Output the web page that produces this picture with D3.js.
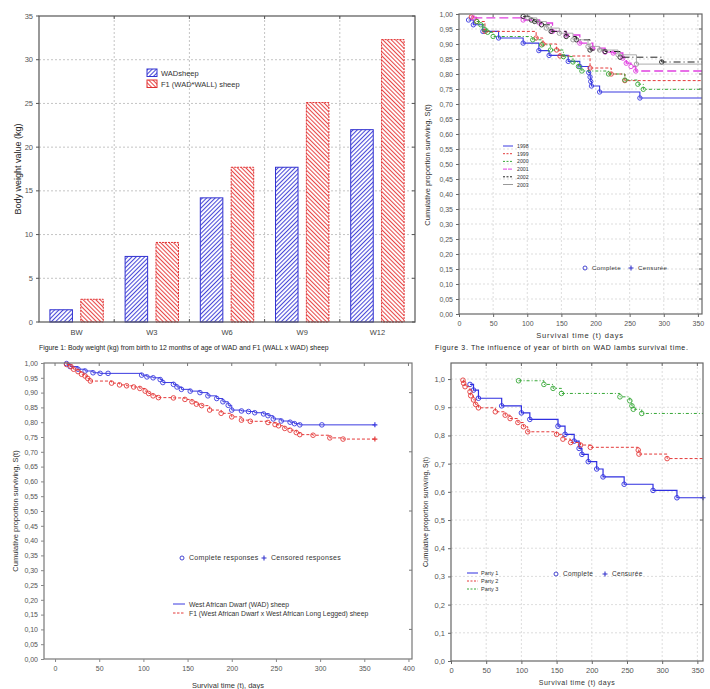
<!DOCTYPE html>
<html lang="en">
<head>
<meta charset="UTF-8">
<title>Sheep body weight and survival</title>
<script src="https://d3js.org/d3.v7.min.js"></script>
<style>
  body { margin: 0; background: #fff; }
  svg { display: block; font-family: "Liberation Sans", Arial, sans-serif; }
</style>
</head>
<body>
<svg id="canvas" width="710" height="689"></svg>
<script>
// ---- values ----

// figure 1: body weight (kg)
const ageGroups = ["BW", "W3", "W6", "W9", "W12"]
const wadWeight = [1.4, 7.5, 14.2, 17.7, 22.0]
const f1Weight = [2.6, 9.1, 17.7, 25.1, 32.3]
const weightTicks = [0, 5, 10, 15, 20, 25, 30, 35]

// figure 3: survival by year of birth (event day, survival after event)
const years = ["1998", "1999", "2000", "2001", "2002", "2003"]
const t1998 = [14, 21, 35, 58, 94, 117, 132, 160, 177, 190, 192, 193, 194, 206, 265]
const s1998 = [0.98, 0.964, 0.942, 0.92, 0.903, 0.878, 0.862, 0.842, 0.825, 0.805, 0.79, 0.775, 0.76, 0.74, 0.72]
const t1999 = [18, 26, 38, 113, 123, 143, 148, 192, 223, 243]
const s1999 = [0.99, 0.975, 0.942, 0.92, 0.90, 0.88, 0.86, 0.82, 0.80, 0.778]
const t2000 = [26, 32, 37, 42, 50, 108, 121, 134, 153, 167, 175, 180, 219, 243, 262, 270]
const s2000 = [0.975, 0.964, 0.95, 0.939, 0.925, 0.914, 0.897, 0.88, 0.858, 0.84, 0.825, 0.81, 0.80, 0.78, 0.766, 0.749]
const t2001 = [21, 94, 118, 137, 157, 177, 196, 214, 226, 240, 245, 252, 259]
const s2001 = [0.987, 0.98, 0.97, 0.942, 0.93, 0.903, 0.886, 0.873, 0.87, 0.853, 0.836, 0.825, 0.81]
const t2002 = [94, 106, 111, 121, 135, 157, 172, 192, 214, 236, 297]
const s2002 = [0.992, 0.98, 0.975, 0.964, 0.942, 0.925, 0.914, 0.88, 0.875, 0.856, 0.84]
const t2003 = [101, 114, 128, 147, 167, 189, 206, 233, 260]
const s2003 = [0.987, 0.975, 0.953, 0.936, 0.914, 0.892, 0.88, 0.864, 0.833]

// bottom left: WAD vs F1
const tWad = [13, 17, 26, 34, 43, 51, 60, 98, 104, 111, 119, 122, 134, 138, 143, 153, 164, 173, 183, 190, 196, 200, 211, 219, 226, 236, 241, 247, 256, 266, 271, 277, 302]
const sWad = [0.998, 0.988, 0.979, 0.973, 0.967, 0.965, 0.965, 0.959, 0.953, 0.95, 0.944, 0.934, 0.928, 0.919, 0.911, 0.905, 0.90, 0.889, 0.88, 0.869, 0.857, 0.841, 0.838, 0.836, 0.832, 0.828, 0.822, 0.811, 0.804, 0.80, 0.795, 0.791, 0.791]
const tF1 = [13, 18, 21, 26, 30, 34, 37, 40, 64, 73, 81, 89, 96, 102, 106, 111, 117, 134, 147, 155, 160, 166, 175, 188, 200, 211, 221, 241, 249, 253, 260, 266, 273, 277, 292, 311, 326]
const sF1 = [0.995, 0.988, 0.979, 0.971, 0.962, 0.956, 0.948, 0.939, 0.932, 0.926, 0.923, 0.919, 0.914, 0.905, 0.897, 0.889, 0.883, 0.882, 0.877, 0.869, 0.861, 0.856, 0.841, 0.83, 0.818, 0.807, 0.803, 0.799, 0.792, 0.788, 0.779, 0.773, 0.765, 0.758, 0.756, 0.747, 0.743]

// bottom right: parity
const parities = ["Party 1", "Party 2", "Party 3"]
const tParty1 = [27, 32, 39, 72, 100, 112, 152, 162, 175, 182, 186, 195, 207, 216, 246, 287, 321]
const sParty1 = [0.981, 0.961, 0.932, 0.905, 0.88, 0.857, 0.833, 0.804, 0.78, 0.754, 0.733, 0.707, 0.681, 0.653, 0.627, 0.605, 0.579]
const tParty2 = [17, 18, 20, 27, 28, 32, 35, 39, 63, 77, 84, 95, 103, 109, 150, 159, 170, 184, 198, 266, 267, 307]
const sParty2 = [0.996, 0.985, 0.973, 0.955, 0.941, 0.926, 0.91, 0.898, 0.884, 0.872, 0.86, 0.846, 0.831, 0.813, 0.804, 0.787, 0.775, 0.766, 0.758, 0.748, 0.734, 0.718]
const tParty3 = [96, 132, 145, 157, 240, 254, 257, 259, 271]
const sParty3 = [0.994, 0.981, 0.967, 0.949, 0.937, 0.923, 0.905, 0.893, 0.878]

const surv05 = [0, 0.05, 0.10, 0.15, 0.20, 0.25, 0.30, 0.35, 0.40, 0.45, 0.50, 0.55, 0.60, 0.65, 0.70, 0.75, 0.80, 0.85, 0.90, 0.95, 1.00]
const surv10 = [0, 0.1, 0.2, 0.3, 0.4, 0.5, 0.6, 0.7, 0.8, 0.9, 1.0]
const days350 = [0, 50, 100, 150, 200, 250, 300, 350]
const days400 = [0, 50, 100, 150, 200, 250, 300, 350, 400]

const svg = d3.select("#canvas")
const defs = svg.append("defs")
const comma = (f) => (d) => d3.format(f)(d).replace(".", ",")

// hatch patterns for the bars
function hatch(id, color, angle) {
    let p = defs.append("pattern").attr("id", id)
        .attr("patternUnits", "userSpaceOnUse")
        .attr("width", 3).attr("height", 3)
        .attr("patternTransform", "rotate(" + angle + ")")
    p.append("rect").attr("width", 3).attr("height", 3).attr("fill", "#fff")
    p.append("line").attr("x1", 0.5).attr("x2", 0.5).attr("y1", 0).attr("y2", 3)
        .attr("stroke", color).attr("stroke-width", 1.1)
}
hatch("hBlue", "#4848d8", 45)
hatch("hRed", "#e84848", -45)

// small helpers for the Statistica-like frames
function frame(g, x, y, color) {
    let [x0, x1] = x.range(), [y0, y1] = y.range()
    g.append("rect")
        .attr("x", x0).attr("y", y1)
        .attr("width", x1 - x0).attr("height", y0 - y1)
        .attr("fill", "none").attr("stroke", color).attr("stroke-width", 1.2)
}

function grid(g, x, y, xv, yv) {
    let [x0, x1] = x.range(), [y0, y1] = y.range()
    g.selectAll(".gx").data(xv).enter().append("line")
        .attr("x1", d => x(d)).attr("x2", d => x(d)).attr("y1", y0).attr("y2", y1)
        .attr("stroke", "#d4d4d4").attr("stroke-dasharray", "2,2").attr("stroke-width", 0.8)
    g.selectAll(".gy").data(yv).enter().append("line")
        .attr("x1", x0).attr("x2", x1).attr("y1", d => y(d)).attr("y2", d => y(d))
        .attr("stroke", "#d4d4d4").attr("stroke-dasharray", "2,2").attr("stroke-width", 0.8)
}

function innerTicks(g, x, y, xv, yv, color) {
    let [x0, x1] = x.range(), [y0, y1] = y.range()
    g.selectAll(".tt").data(xv).enter().append("line")
        .attr("x1", d => x(d)).attr("x2", d => x(d)).attr("y1", y1).attr("y2", y1 + 3)
        .attr("stroke", color)
    g.selectAll(".tr").data(yv).enter().append("line")
        .attr("x1", x1).attr("x2", x1 - 3).attr("y1", d => y(d)).attr("y2", d => y(d))
        .attr("stroke", color)
}

function axes(g, x, y, xv, yv, xf, yf, fs, color) {
    let [y0] = y.range(), [x0] = x.range()
    let ax = g.append("g").attr("transform", "translate(0," + y0 + ")")
        .call(d3.axisBottom(x).tickValues(xv).tickFormat(xf).tickSize(3).tickPadding(4))
    let ay = g.append("g").attr("transform", "translate(" + x0 + ",0)")
        .call(d3.axisLeft(y).tickValues(yv).tickFormat(yf).tickSize(3).tickPadding(3))
    for (let a of [ax, ay]) {
        a.select(".domain").remove()
        a.selectAll("line").attr("stroke", color)
        a.selectAll("text").attr("fill", "#555").style("font-size", fs + "px")
            .style("font-family", "Liberation Sans, Arial, sans-serif")
    }
}

// Kaplan-Meier step curve with circles at events
function km(g, x, y, times, surv, end, style) {
    let pts = times.map((t, i) => [t, surv[i]])
    pts.push([end, surv[surv.length - 1]])
    let line = d3.line().x(d => x(d[0])).y(d => y(d[1])).curve(d3.curveStepAfter)
    g.append("path").attr("d", line(pts))
        .attr("fill", "none").attr("stroke", style.color)
        .attr("stroke-width", style.width || 1)
        .attr("stroke-dasharray", style.dash || null)
    g.selectAll(null).data(pts.slice(0, -1)).enter().append("circle")
        .attr("cx", d => x(d[0])).attr("cy", d => y(d[1])).attr("r", style.r || 2.2)
        .attr("fill", "none").attr("stroke", style.color).attr("stroke-width", 0.9)
    if (style.censor) {
        let px = x(end), py = y(surv[surv.length - 1])
        g.append("path").attr("d", `M${px - 2.5},${py}H${px + 2.5}M${px},${py - 2.5}V${py + 2.5}`)
            .attr("stroke", style.color).attr("stroke-width", 1.2)
    }
}

function label(g, text, x, y, size, opts = {}) {
    let t = g.append("text").attr("x", x).attr("y", y).text(text)
        .style("font-size", size + "px").attr("fill", opts.fill || "#333")
        .attr("text-anchor", opts.anchor || "start")
    if (opts.rotate) t.attr("transform", "rotate(-90," + x + "," + y + ")")
    if (opts.spacing) t.style("letter-spacing", opts.spacing + "px")
    return t
}

function markerLegend(g, x, y, texts, size, gap) {
    g.append("circle").attr("cx", x).attr("cy", y - 2).attr("r", 2).attr("fill", "none")
        .attr("stroke", "#3333cc").attr("stroke-width", 0.9)
    label(g, texts[0], x + 7, y, size, { spacing: 0.3 })
    let px = x + gap
    g.append("path").attr("d", `M${px - 2.5},${y - 2}H${px + 2.5}M${px},${y - 4.5}V${y + 0.5}`)
        .attr("stroke", "#3333cc").attr("stroke-width", 1.1)
    label(g, texts[1], px + 7, y, size, { spacing: 0.3 })
}

// ================= figure 1: bar chart =================
let drawBars = () => {
    let g = svg.append("g")
    let x = d3.scaleBand().domain(ageGroups).range([39, 415]).paddingInner(0.29).paddingOuter(0.145)
    let xs = d3.scaleBand().domain(["wad", "f1"]).range([0, x.bandwidth()]).paddingInner(0.27)
    let y = d3.scaleLinear().domain([0, 35]).range([322, 16])
    let step = x.step()
    let bounds = ageGroups.slice(1).map((d, i) => 39 + step * (i + 1))

    // grid: dashed horizontals and category separators
    g.selectAll(".gy").data(weightTicks.slice(1, -1)).enter().append("line")
        .attr("x1", 39).attr("x2", 415).attr("y1", d => y(d)).attr("y2", d => y(d))
        .attr("stroke", "#c4c4c4").attr("stroke-dasharray", "2,2")
    g.selectAll(".gx").data(bounds).enter().append("line")
        .attr("x1", d => d).attr("x2", d => d).attr("y1", 16).attr("y2", 322)
        .attr("stroke", "#c4c4c4").attr("stroke-dasharray", "2,2")

    let rows = ageGroups.map((a, i) => ({ age: a, wad: wadWeight[i], f1: f1Weight[i] }))
    let grp = g.selectAll(".bar").data(rows).enter().append("g")
        .attr("transform", d => "translate(" + x(d.age) + ",0)")
    grp.append("rect")
        .attr("x", xs("wad")).attr("width", xs.bandwidth())
        .attr("y", d => y(d.wad)).attr("height", d => y(0) - y(d.wad))
        .attr("fill", "url(#hBlue)").attr("stroke", "#3232d0").attr("stroke-width", 1)
    grp.append("rect")
        .attr("x", xs("f1")).attr("width", xs.bandwidth())
        .attr("y", d => y(d.f1)).attr("height", d => y(0) - y(d.f1))
        .attr("fill", "url(#hRed)").attr("stroke", "#e03030").attr("stroke-width", 1)
        .attr("stroke-dasharray", "2,1")

    frame(g, d3.scaleLinear().range([39, 415]), y, "#555")
    // ticks
    g.selectAll(".ty").data(weightTicks).enter().append("line")
        .attr("x1", 36).attr("x2", 39).attr("y1", d => y(d)).attr("y2", d => y(d)).attr("stroke", "#555")
    g.selectAll(".tr").data(weightTicks).enter().append("line")
        .attr("x1", 415).attr("x2", 412).attr("y1", d => y(d)).attr("y2", d => y(d)).attr("stroke", "#555")
    g.selectAll(".tb").data(bounds).enter().append("line")
        .attr("x1", d => d).attr("x2", d => d).attr("y1", 322).attr("y2", 319).attr("stroke", "#555")
    g.selectAll(".tt").data(bounds).enter().append("line")
        .attr("x1", d => d).attr("x2", d => d).attr("y1", 16).attr("y2", 19).attr("stroke", "#555")

    g.selectAll(".yl").data(weightTicks).enter().append("text")
        .attr("x", 33).attr("y", d => y(d) + 2.5).attr("text-anchor", "end")
        .style("font-size", "7.5px").attr("fill", "#555").text(d => d)
    g.selectAll(".xl").data(ageGroups).enter().append("text")
        .attr("x", d => x(d) + x.bandwidth() / 2).attr("y", 335).attr("text-anchor", "middle")
        .style("font-size", "7.5px").attr("fill", "#444").text(d => d)

    label(g, "Body weight value (kg)", 21, 169, 9, { rotate: true, anchor: "middle", fill: "#222" })

    // legend
    g.append("rect").attr("x", 147).attr("y", 69).attr("width", 10).attr("height", 7.5)
        .attr("fill", "url(#hBlue)").attr("stroke", "#3232d0")
    g.append("rect").attr("x", 147).attr("y", 80).attr("width", 10).attr("height", 7.5)
        .attr("fill", "url(#hRed)").attr("stroke", "#e03030")
    label(g, "WADsheep", 161, 75.5, 7.5)
    label(g, "F1 (WAD*WALL) sheep", 161, 86.5, 7.5)

    label(g, "Figure 1: Body weight (kg) from birth to 12 months of age of WAD and F1 (WALL x WAD) sheep",
        39, 350, 6.85, { fill: "#222" })
}

// ================= figure 3: year of birth =================
let drawYears = () => {
    let g = svg.append("g")
    let x = d3.scaleLinear().domain([0, 356]).range([459, 702])
    let y = d3.scaleLinear().domain([0, 1]).range([314, 14])
    grid(g, x, y, days350.slice(1), surv05.slice(1, -1))

    let styles = [
        { color: "#3a3ae0", width: 1.1 },
        { color: "#e43a3a", dash: "3,2" },
        { color: "#38a838", dash: "3,2,1,2" },
        { color: "#e040e0", dash: "9,4", width: 1.3 },
        { color: "#222", dash: "7,3,1,3" },
        { color: "#999", width: 0.8 }
    ]
    let series = [[t1998, s1998], [t1999, s1999], [t2000, s2000], [t2001, s2001], [t2002, s2002], [t2003, s2003]]
    series.forEach((s, i) => km(g, x, y, s[0], s[1], 356, Object.assign({ r: 2.2 }, styles[i])))

    frame(g, x, y, "#666")
    innerTicks(g, x, y, days350.slice(1), surv05.slice(1, -1), "#666")
    axes(g, x, y, days350, surv05, d => d, comma(".2f"), 7, "#666")

    label(g, "Cumulative proportion surviving, S(t)", 430, 165, 7.5, { rotate: true, anchor: "middle", fill: "#333" })
    label(g, "Survival time (t) days", 580, 338, 7.5, { anchor: "middle", spacing: 0.8 })
    label(g, "Figure 3. The influence of year of birth on WAD lambs survival time.", 435, 350, 7,
        { fill: "#222", spacing: 0.65 })

    // line legend
    years.forEach((yr, i) => {
        let yy = 146 + i * 7.7
        g.append("line").attr("x1", 503).attr("x2", 513).attr("y1", yy).attr("y2", yy)
            .attr("stroke", styles[i].color).attr("stroke-width", 1)
            .attr("stroke-dasharray", i == 0 || i == 5 ? null : (i == 3 ? "4,1" : "2,1.5"))
        label(g, yr, 517, yy + 2, 5.2)
    })
    markerLegend(g, 585, 270, ["Complete", "Censurée"], 6.2, 46)
}

// ================= bottom left: WAD vs F1 =================
let drawBreeds = () => {
    let g = svg.append("g")
    let x = d3.scaleLinear().domain([-12.5, 404]).range([44, 412])
    let y = d3.scaleLinear().domain([0, 1]).range([659, 363])

    km(g, x, y, tWad, sWad, 362, { color: "#3a3ae0", r: 2.3, censor: true })
    km(g, x, y, tF1, sF1, 362, { color: "#e43a3a", dash: "3,2", r: 2.3, censor: true })

    frame(g, x, y, "#777")
    innerTicks(g, x, y, days400, surv05.filter((d, i) => i % 4 == 2), "#777")
    axes(g, x, y, days400, surv05, d => d, comma(".2f"), 7, "#888")

    label(g, "Cumulative proportion surviving, S(t)", 18, 511, 7.5, { rotate: true, anchor: "middle" })
    label(g, "Survival time (t), days", 228, 688, 7.5, { anchor: "middle" })

    markerLegend(g, 182, 560, ["Complete responses", "Censored responses"], 7, 82)
    g.append("line").attr("x1", 173).attr("x2", 185).attr("y1", 604).attr("y2", 604)
        .attr("stroke", "#3a3ae0")
    g.append("line").attr("x1", 173).attr("x2", 185).attr("y1", 613).attr("y2", 613)
        .attr("stroke", "#e43a3a").attr("stroke-dasharray", "2.5,1.5")
    label(g, "West African Dwarf (WAD) sheep", 189, 606.5, 6.8)
    label(g, "F1 (West African Dwarf x West African Long Legged) sheep", 189, 615.5, 6.8)
}

// ================= bottom right: parity =================
let drawParity = () => {
    let g = svg.append("g")
    let x = d3.scaleLinear().domain([0, 358]).range([451, 703])
    let y = d3.scaleLinear().domain([0, 1.057]).range([661, 363])
    grid(g, x, y, days350.slice(1), surv10.slice(1))

    let styles = [
        { color: "#2f2fe0", width: 1.2, censor: true },
        { color: "#e43a3a", dash: "3,2" },
        { color: "#38a838", dash: "3,2,1,2" }
    ]
    km(g, x, y, tParty1, sParty1, 358, Object.assign({ r: 2.3 }, styles[0]))
    km(g, x, y, tParty2, sParty2, 358, Object.assign({ r: 2.3 }, styles[1]))
    km(g, x, y, tParty3, sParty3, 358, Object.assign({ r: 2.3 }, styles[2]))

    frame(g, x, y, "#666")
    innerTicks(g, x, y, days350.slice(1), surv10.filter((d, i) => i % 3 == 2), "#666")
    axes(g, x, y, days350, surv10, d => d, comma(".1f"), 7.5, "#666")

    label(g, "Cumulative proportion surviving, S(t)", 428, 512, 6.8, { rotate: true, anchor: "middle", fill: "#222" })
    label(g, "Survival time (t) days", 577, 685, 7, { anchor: "middle", spacing: 0.5 })

    parities.forEach((p, i) => {
        let yy = 573 + i * 8
        g.append("line").attr("x1", 467).attr("x2", 478).attr("y1", yy).attr("y2", yy)
            .attr("stroke", styles[i].color).attr("stroke-dasharray", i == 0 ? null : "2,1.5")
        label(g, p, 481, yy + 2, 5.5)
    })
    markerLegend(g, 556, 576, ["Complete", "Censurée"], 6.5, 49)
}

drawBars()
drawYears()
drawBreeds()
drawParity()
</script>
</body>
</html>
